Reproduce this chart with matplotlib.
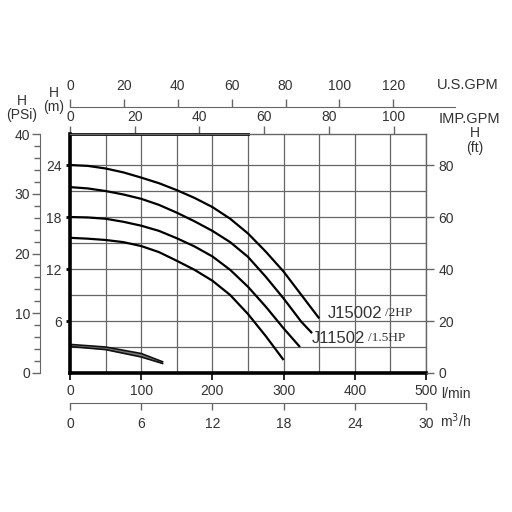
import matplotlib
matplotlib.use("Agg")
import matplotlib.pyplot as plt

plt.rcParams['font.family'] = ['Liberation Sans', 'DejaVu Sans']

# pump curves, flow in l/min, head in m
q1 = [0, 25, 50, 75, 100, 125, 150, 175, 200, 225, 250, 275, 300, 325, 350]
h1 = [24.0, 23.9, 23.6, 23.15, 22.55, 21.9, 21.1, 20.2, 19.15, 17.8, 16.1, 14.0, 11.7, 9.0, 6.3]
q2 = [0, 25, 50, 75, 100, 125, 150, 175, 200, 225, 250, 275, 300, 325, 340]
h2 = [21.45, 21.3, 21.0, 20.6, 20.1, 19.4, 18.5, 17.5, 16.4, 15.1, 13.4, 11.1, 8.6, 5.9, 4.6]
q3 = [0, 25, 50, 75, 100, 125, 150, 175, 200, 225, 250, 275, 300, 323]
h3 = [18.0, 17.95, 17.8, 17.45, 17.0, 16.4, 15.55, 14.6, 13.45, 11.9, 9.95, 7.65, 5.15, 3.0]
q4 = [0, 25, 50, 75, 100, 125, 150, 175, 200, 225, 250, 275, 300]
h4 = [15.6, 15.5, 15.35, 15.1, 14.65, 13.95, 12.95, 11.9, 10.65, 9.0, 6.8, 4.25, 1.5]
# small pumps near the bottom (drawn as a narrow band)
qs = [0, 50, 100, 130]
hs_top = [3.3, 3.0, 2.25, 1.3]
hs_bot = [3.05, 2.7, 1.85, 1.1]

labels = [("J15002", "/2HP"), ("J11502", "/1.5HP")]

lpm_ticks = [0, 100, 200, 300, 400, 500]
m_ticks = [6, 12, 18, 24]
psi_ticks = [0, 10, 20, 30, 40]
ft_ticks = [0, 20, 40, 60, 80]
imp_ticks = [0, 20, 40, 60, 80, 100]
us_ticks = [0, 20, 40, 60, 80, 100, 120]
m3h_ticks = [0, 6, 12, 18, 24, 30]

LPM_PER_IMP = 4.546
LPM_PER_US = 3.785
FT_PER_M = 80 / 24   # as drawn on the chart
YTOP = 27.58

txt = '#333333'
gray = '#666666'

fig = plt.figure(figsize=(5.12, 5.12), dpi=100)
L, R, T, B = 70 / 512, 426 / 512, 1 - 134 / 512, 1 - 373 / 512
ax = fig.add_axes([L, B, R - L, T - B])
ax.set_xlim(0, 500)
ax.set_ylim(0, YTOP)

for sp in ax.spines.values():
    sp.set_color(gray)
    sp.set_linewidth(1)
ax.spines['left'].set_color('black')
ax.spines['left'].set_linewidth(2.6)
ax.spines['bottom'].set_color('black')
ax.spines['bottom'].set_linewidth(2.6)
ax.axhline(YTOP, xmin=0, xmax=0.5, color='black', lw=2, clip_on=False)
ax.axhline(0, xmin=0.487, xmax=0.503, color='white', lw=3.5, clip_on=False)

ax.set_xticks(lpm_ticks)
ax.set_xticks(range(0, 501, 50), minor=True)
ax.set_yticks(m_ticks)
ax.set_yticks([3, 9, 15, 21], minor=True)
ax.grid(True, which='both', color=gray, lw=0.9)
ax.set_axisbelow(True)
ax.tick_params(axis='both', which='minor', length=0)
ax.tick_params(axis='x', which='major', direction='out', length=5, width=1.2,
               labelsize=10, labelcolor=txt, pad=3)
ax.tick_params(axis='y', which='major', direction='out', length=3, width=2,
               labelsize=10, labelcolor=txt, pad=3)

for q, h in [(q1, h1), (q2, h2), (q3, h3), (q4, h4)]:
    ax.plot(q, h, color='black', lw=1.6, solid_capstyle='butt',
            solid_joinstyle='round')
ax.fill_between(qs, hs_bot, hs_top, color='#777777', lw=0)
ax.plot(qs, hs_top, color='#111111', lw=1.2)
ax.plot(qs, hs_bot, color='#111111', lw=1.2)

for (name, hp), q, h, dx in [(labels[0], q1, h1, 12), (labels[1], q2, h2, 0)]:
    t = ax.text(q[-1] + dx, h[-1] + 0.6 if dx else h[-1] - 0.6, name,
                fontsize=12, color=txt, ha='left', va='center')
    ax.annotate(hp, xy=(1, 0.5), xycoords=t, xytext=(2, 0),
                textcoords='offset points', va='center', ha='left',
                fontsize=9.5, color=txt, family='Liberation Serif')

# IMP.GPM on the top edge
sec = ax.secondary_xaxis('top', functions=(lambda x: x / LPM_PER_IMP,
                                           lambda x: x * LPM_PER_IMP))
sec.set_xticks(imp_ticks)
sec.spines['top'].set_visible(False)
sec.tick_params(direction='out', length=6, width=1, color=gray,
                labelsize=10, labelcolor=txt, pad=1)

# ft on the right
ax_ft = ax.twinx()
ax_ft.set_ylim(0, YTOP * FT_PER_M)
ax_ft.set_yticks(ft_ticks)
for sp in ax_ft.spines.values():
    sp.set_visible(False)
ax_ft.tick_params(direction='out', length=6, width=1, color=gray,
                  labelsize=10, labelcolor=txt, pad=3)

# PSI axis on the far left
ax_psi = fig.add_axes([40 / 512, B, 0.0001, T - B])
ax_psi.set_ylim(0, 40)
ax_psi.set_yticks(psi_ticks)
ax_psi.set_yticks(range(0, 41, 2), minor=True)
ax_psi.set_xticks([])
for s in ['top', 'right', 'bottom']:
    ax_psi.spines[s].set_visible(False)
ax_psi.spines['left'].set_color(gray)
ax_psi.patch.set_visible(False)
ax_psi.tick_params(axis='y', which='major', direction='out', length=6, width=1,
                   color=gray, labelsize=10, labelcolor=txt, pad=1)
ax_psi.tick_params(axis='y', which='minor', direction='out', length=4, width=1,
                   color=gray)

# U.S.GPM line above
us_right = 455 / 512
ax_us = fig.add_axes([L, 1 - 106.7 / 512, us_right - L, 0.0001])
ax_us.set_xlim(0, 500 * (455 - 70) / 356 / LPM_PER_US)
ax_us.set_xticks(us_ticks)
ax_us.set_yticks([])
for s in ['left', 'right', 'bottom']:
    ax_us.spines[s].set_visible(False)
ax_us.spines['top'].set_color(gray)
ax_us.patch.set_visible(False)
ax_us.xaxis.tick_top()
ax_us.tick_params(axis='x', direction='out', length=6, width=1, color=gray,
                  labelsize=10, labelcolor=txt, pad=4)

# m3/h line below
ax_m3 = fig.add_axes([L, 1 - 403 / 512, R - L, 0.0001])
ax_m3.set_xlim(0, 30)
ax_m3.set_xticks(m3h_ticks)
ax_m3.set_yticks([])
for s in ['left', 'right', 'top']:
    ax_m3.spines[s].set_visible(False)
ax_m3.spines['bottom'].set_color(gray)
ax_m3.patch.set_visible(False)
ax_m3.tick_params(axis='x', direction='out', length=5, width=1, color=gray,
                  labelsize=10, labelcolor=txt, pad=5)

def ftext(x, y, s, size=10):
    fig.text(x / 512, 1 - y / 512, s, color=txt, ha='center', va='center',
             fontsize=size)

ftext(22, 101, "H")
ftext(22, 115, "(PSi)")
ftext(54, 93, "H")
ftext(54, 107, "(m)")
ftext(475, 133, "H")
ftext(475, 148, "(ft)")
ftext(468, 85, "U.S.GPM", 10.5)
ftext(469, 119, "IMP.GPM", 10.5)
ftext(456, 394, "l/min")
ftext(456, 421, "m$^3$/h")

fig.savefig("out.png", dpi=100)
